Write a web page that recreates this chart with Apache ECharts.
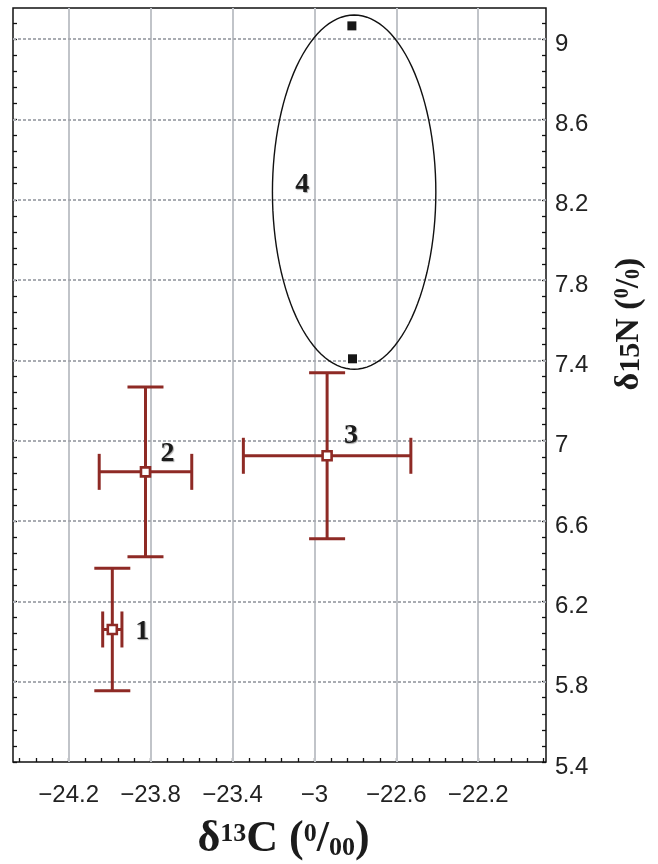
<!DOCTYPE html>
<html>
<head>
<meta charset="utf-8">
<script src="https://cdn.jsdelivr.net/npm/echarts@6/dist/echarts.min.js"></script>
<style>
html,body{margin:0;padding:0;background:#fff;}
#chart{width:658px;height:864px;}
</style>
</head>
<body>
<div id="chart"></div>
<script>
// ---- data ----
var xTickValues = [-24.2, -23.8, -23.4, -23.0, -22.6, -22.2];
var xTickLabels = ['\u221224.2', '\u221223.8', '\u221223.4', '\u22123', '\u221222.6', '\u221222.2'];
var yTickValues = [5.4, 5.8, 6.2, 6.6, 7.0, 7.4, 7.8, 8.2, 8.6, 9.0];
var yTickLabels = ['5.4', '5.8', '6.2', '6.6', '7', '7.4', '7.8', '8.2', '8.6', '9'];
var xRange = [-24.472, -21.869];
var yRange = [5.4, 9.155];

// groups 1-3: mean d13C, mean d15N, d13C error, d15N error
var groupNames = ['1', '2', '3'];
var meanC = [-23.987, -23.825, -22.938];
var meanN = [6.06, 6.845, 6.925];
var errC = [0.047, 0.226, 0.409];
var errN = [0.305, 0.423, 0.413];

// group 4: individual points and enclosing ellipse
var g4C = [-22.817, -22.814];
var g4N = [9.066, 7.408];
var g4Ellipse = [-22.806, 8.238, 0.399, 0.882]; // centre C, centre N, half-width, half-height
var g4Name = '4';

// ---- build ----
var RED = '#8e2a25';
function minorTicks(major, step, lo, hi) {
  var out = [];
  var start = major[0];
  for (var v = start; v >= lo - 1e-9; v -= step) out.push(+v.toFixed(4));
  for (var w = start + step; w <= hi + 1e-9; w += step) out.push(+w.toFixed(4));
  return out;
}
var xMinor = minorTicks(xTickValues, 0.08, xRange[0], xRange[1]);
var yMinor = minorTicks(yTickValues, 0.08, yRange[0], yRange[1]);

var errData = groupNames.map(function (n, i) { return [meanC[i], meanN[i], errC[i], errN[i]]; });
var labelOffsets = [[30, 2], [22, -18], [24, -20]];
var meanData = groupNames.map(function (n, i) {
  return {
    value: [meanC[i], meanN[i]], name: n,
    label: { show: true, formatter: n, position: 'inside', offset: labelOffsets[i] }
  };
});
var g4Data = g4C.map(function (c, i) { return [c, g4N[i]]; });

var gridLines = [];
xTickValues.forEach(function (v) {
  gridLines.push({ xAxis: v, lineStyle: { color: '#c1c4c9', width: 2, type: 'solid' } });
});
yTickValues.slice(1).forEach(function (v) {
  gridLines.push({ yAxis: v, lineStyle: { color: '#a9acb2', width: 2, type: [3, 2] } });
});

var numLabel = {
  fontFamily: 'Liberation Serif', fontWeight: 'bold', fontSize: 28, color: '#1b1b1b',
  textShadowColor: 'rgba(0,0,0,0.35)', textShadowBlur: 1, textShadowOffsetX: 1, textShadowOffsetY: 1
};

var chart = echarts.init(document.getElementById('chart'), null, { renderer: 'canvas' });
var option = {
  animation: false,
  backgroundColor: '#fff',
  grid: { left: 13, right: 112, top: 8, bottom: 102, containLabel: false, outerBoundsMode: 'none',
    show: true, borderColor: '#111', borderWidth: 1.5, backgroundColor: 'transparent' },
  xAxis: [{
    type: 'value', position: 'bottom', min: xRange[0], max: xRange[1],
    axisLine: { show: false },
    axisTick: { show: true, inside: true, length: 4, customValues: xMinor, lineStyle: { color: '#111', width: 1.3 } },
    axisLabel: {
      show: true, customValues: xTickValues, margin: 21,
      fontFamily: 'Liberation Sans', fontSize: 24, color: '#222',
      formatter: function (v) {
        for (var i = 0; i < xTickValues.length; i++) if (Math.abs(v - xTickValues[i]) < 1e-6) return xTickLabels[i];
        return '';
      }
    },
    splitLine: { show: false },
    name: '{d|\u03b4}{s|13}{d|C (}{s|0}{d|/}{b|00}{d|)}',
    nameLocation: 'middle', nameGap: 56,
    nameTextStyle: {
      padding: [0, 0, 0, 8],
      rich: {
        d: { fontFamily: 'Liberation Serif', fontWeight: 'bold', fontSize: 44, color: '#1b1b1b', lineHeight: 44, verticalAlign: 'bottom' },
        s: { fontFamily: 'Liberation Serif', fontWeight: 'bold', fontSize: 26, color: '#1b1b1b', lineHeight: 44, verticalAlign: 'top', padding: [3, 0, 0, 0] },
        b: { fontFamily: 'Liberation Serif', fontWeight: 'bold', fontSize: 26, color: '#1b1b1b', lineHeight: 44, verticalAlign: 'bottom', padding: [0, 0, 1, 0] }
      }
    }
  }],
  yAxis: [{
    type: 'value', position: 'right', min: yRange[0], max: yRange[1],
    axisLine: { show: false },
    axisTick: { show: true, inside: true, length: 4, customValues: yMinor, lineStyle: { color: '#111', width: 1.3 } },
    axisLabel: {
      show: true, customValues: yTickValues, margin: 9,
      verticalAlign: 'top', lineHeight: 10,
      fontFamily: 'Liberation Sans', fontSize: 24, color: '#222',
      formatter: function (v) {
        for (var i = 0; i < yTickValues.length; i++) if (Math.abs(v - yTickValues[i]) < 1e-6) return yTickLabels[i];
        return '';
      }
    },
    splitLine: { show: false },
    name: '{d|\u03b4}{m|15}{d|N (}{s|0}{d|/}{b|0}{d|)}',
    nameLocation: 'middle', nameGap: 64,
    nameTextStyle: {
      padding: [0, 0, 0, 122],
      rich: {
        d: { fontFamily: 'Liberation Serif', fontWeight: 'bold', fontSize: 34, color: '#1b1b1b', lineHeight: 36, verticalAlign: 'bottom' },
        m: { fontFamily: 'Liberation Serif', fontWeight: 'bold', fontSize: 30, color: '#1b1b1b', lineHeight: 36, verticalAlign: 'bottom' },
        s: { fontFamily: 'Liberation Serif', fontWeight: 'bold', fontSize: 20, color: '#1b1b1b', lineHeight: 36, verticalAlign: 'top', padding: [3, 0, 0, 0] },
        b: { fontFamily: 'Liberation Serif', fontWeight: 'bold', fontSize: 20, color: '#1b1b1b', lineHeight: 36, verticalAlign: 'bottom', padding: [0, 0, 2, 0] }
      }
    }
  }, {
    type: 'value', position: 'left', min: yRange[0], max: yRange[1],
    axisLine: { show: false },
    axisTick: { show: true, inside: true, length: 4, customValues: yMinor, lineStyle: { color: '#111', width: 1.3 } },
    axisLabel: { show: false },
    splitLine: { show: false }
  }],
  series: [
    {
      type: 'custom', name: 'g4ellipse', z: 3, silent: true,
      data: [g4Ellipse],
      encode: { x: 0, y: 1 },
      renderItem: function (params, api) {
        var c = api.coord([api.value(0), api.value(1)]);
        var rx = api.size([api.value(2), 0])[0];
        var ry = api.size([0, api.value(3)])[1];
        var pts = [];
        for (var k = 0; k < 120; k++) {
          var a = k / 120 * Math.PI * 2;
          pts.push([c[0] + rx * Math.cos(a), c[1] + ry * Math.sin(a)]);
        }
        return {
          type: 'group', children: [
            { type: 'polygon', shape: { points: pts }, style: { fill: 'none', stroke: '#111', lineWidth: 1.4 } },
            { type: 'text', x: c[0] - 52, y: c[1] - 7, style: {
              text: g4Name, align: 'center', verticalAlign: 'middle',
              font: 'bold 28px "Liberation Serif"', fill: '#1b1b1b', textShadowColor: 'rgba(0,0,0,0.35)', textShadowBlur: 1, textShadowOffsetX: 1, textShadowOffsetY: 1 } }
          ]
        };
      },
      markLine: {
        silent: true, symbol: ['none', 'none'], label: { show: false }, z: 1,
        animation: false, data: gridLines
      }
    },
    {
      type: 'custom', name: 'errorbars', z: 4, silent: true,
      data: errData,
      encode: { x: 0, y: 1 },
      renderItem: function (params, api) {
        var x = api.value(0), y = api.value(1), ex = api.value(2), ey = api.value(3);
        var l = api.coord([x - ex, y]), r = api.coord([x + ex, y]);
        var t = api.coord([x, y + ey]), b = api.coord([x, y - ey]);
        var cap = 18;
        var st = { stroke: RED, lineWidth: 3 };
        return {
          type: 'group', children: [
            { type: 'line', shape: { x1: l[0], y1: l[1], x2: r[0], y2: r[1] }, style: st },
            { type: 'line', shape: { x1: t[0], y1: t[1], x2: b[0], y2: b[1] }, style: st },
            { type: 'line', shape: { x1: l[0], y1: l[1] - cap, x2: l[0], y2: l[1] + cap }, style: st },
            { type: 'line', shape: { x1: r[0], y1: r[1] - cap, x2: r[0], y2: r[1] + cap }, style: st },
            { type: 'line', shape: { x1: t[0] - cap, y1: t[1], x2: t[0] + cap, y2: t[1] }, style: st },
            { type: 'line', shape: { x1: b[0] - cap, y1: b[1], x2: b[0] + cap, y2: b[1] }, style: st }
          ]
        };
      }
    },
    {
      type: 'scatter', name: 'means', z: 5, silent: true,
      symbol: 'rect', symbolSize: 9,
      itemStyle: { color: '#fff', borderColor: RED, borderWidth: 2.6, opacity: 1 },
      label: numLabel,
      data: meanData
    },
    {
      type: 'scatter', name: 'group4', z: 5, silent: true,
      symbol: 'rect', symbolSize: 9,
      itemStyle: { color: '#161616', opacity: 1 },
      data: g4Data
    }
  ]
};
chart.setOption(option);
</script>
</body>
</html>
